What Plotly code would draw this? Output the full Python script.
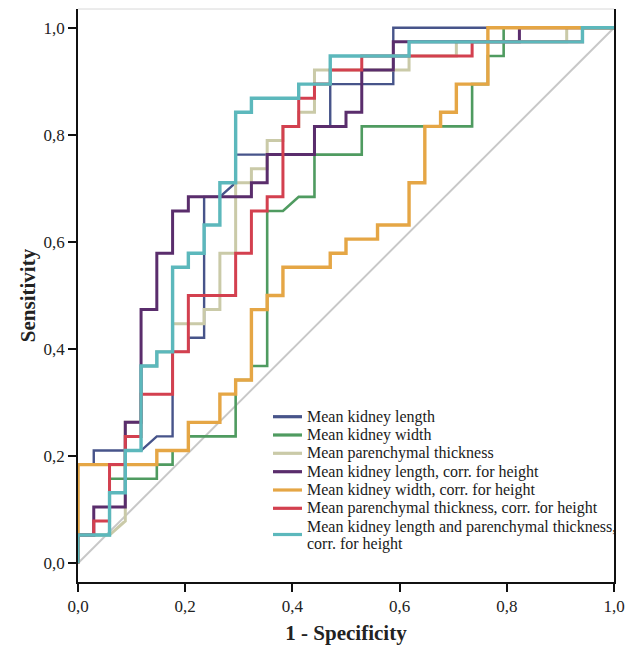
import plotly.graph_objects as go

# ROC step points given as counts: false positives (of N_NEG negatives) and true positives (of N_POS positives)
N_NEG = 34
N_POS = 38

series_names = [
    "Mean kidney length",
    "Mean kidney width",
    "Mean parenchymal thickness",
    "Mean kidney length, corr. for height",
    "Mean kidney width, corr. for height",
    "Mean parenchymal thickness, corr. for height",
    "Mean kidney length and parenchymal thickness,<br>corr. for height",
]

length_fp = [0, 0, 1, 1, 4, 5, 6, 6, 7, 7, 8, 8, 9, 10, 10, 15, 15, 16, 16, 20, 20, 34]
length_tp = [0, 7, 7, 8, 8, 9, 9, 15, 15, 16, 16, 26, 26, 27, 29, 29, 31, 31, 34, 34, 38, 38]

width_fp = [0, 0, 2, 2, 5, 5, 6, 6, 7, 7, 10, 10, 11, 11, 12, 12, 13, 14, 15, 15, 18, 18, 25, 25, 26, 26, 27, 27, 34]
width_tp = [0, 2, 2, 6, 6, 7, 7, 8, 8, 9, 9, 13, 13, 14, 14, 25, 25, 26, 26, 29, 29, 31, 31, 34, 34, 36, 36, 38, 38]

paren_fp = [0, 0, 2, 3, 3, 4, 4, 5, 5, 6, 6, 8, 8, 9, 9, 10, 10, 11, 11, 12, 12, 13, 13, 14, 14, 15, 15, 21, 21, 24, 24, 31, 31, 34]
paren_tp = [0, 2, 2, 3, 10, 10, 14, 14, 15, 15, 17, 17, 18, 18, 22, 22, 27, 27, 28, 28, 30, 30, 31, 31, 32, 32, 35, 35, 36, 36, 37, 37, 38, 38]

length_h_fp = [0, 0, 1, 1, 3, 3, 4, 4, 5, 5, 6, 6, 7, 7, 11, 11, 12, 12, 15, 15, 17, 17, 18, 18, 20, 20, 28, 28, 34]
length_h_tp = [0, 2, 2, 4, 4, 10, 10, 18, 18, 22, 22, 25, 25, 26, 26, 27, 27, 29, 29, 31, 31, 32, 32, 35, 35, 37, 37, 38, 38]

width_h_fp = [0, 0, 5, 5, 7, 7, 9, 9, 10, 10, 11, 11, 12, 12, 13, 13, 16, 16, 17, 17, 19, 19, 21, 21, 22, 22, 23, 23, 24, 24, 26, 26, 34]
width_h_tp = [0, 7, 7, 8, 8, 10, 10, 12, 12, 13, 13, 18, 18, 19, 19, 21, 21, 22, 22, 23, 23, 24, 24, 27, 27, 31, 31, 32, 32, 34, 34, 38, 38]

paren_h_fp = [0, 0, 1, 1, 2, 2, 3, 3, 4, 4, 6, 6, 7, 7, 10, 10, 11, 11, 12, 12, 13, 13, 14, 14, 15, 15, 16, 16, 18, 18, 25, 25, 32, 32, 34]
paren_h_tp = [0, 2, 2, 3, 3, 7, 7, 9, 9, 12, 12, 15, 15, 19, 19, 22, 22, 25, 25, 26, 26, 31, 31, 33, 33, 34, 34, 35, 35, 36, 36, 37, 37, 38, 38]

combo_h_fp = [0, 0, 2, 2, 3, 3, 4, 4, 5, 5, 6, 6, 7, 7, 8, 8, 9, 9, 10, 10, 11, 11, 14, 14, 16, 16, 21, 21, 32, 32, 34]
combo_h_tp = [0, 2, 2, 5, 5, 8, 8, 14, 14, 15, 15, 21, 21, 22, 22, 24, 24, 27, 27, 32, 32, 33, 33, 34, 34, 36, 36, 37, 37, 38, 38]

tick_vals = [0, 0.2, 0.4, 0.6, 0.8, 1.0]

colors = ["#47548a", "#4f9b60", "#cacaa8", "#5a2d6c", "#e5a645", "#d3404f", "#5cb8bc"]
widths = [2.4, 2.6, 3.0, 3.0, 3.4, 3.0, 3.4]

all_fp = [length_fp, width_fp, paren_fp, length_h_fp, width_h_fp, paren_h_fp, combo_h_fp]
all_tp = [length_tp, width_tp, paren_tp, length_h_tp, width_h_tp, paren_h_tp, combo_h_tp]

ref_x = [0, 1]
ref_y = [0, 1]

font_family = "Liberation Serif"

fig = go.Figure()
fig.add_trace(go.Scatter(x=ref_x, y=ref_y, mode="lines", line=dict(color="#c8c8c8", width=2),
                         showlegend=False, hoverinfo="skip"))
for name, fp, tp, c, w in zip(series_names, all_fp, all_tp, colors, widths):
    fig.add_trace(go.Scatter(
        x=[v / N_NEG for v in fp],
        y=[v / N_POS for v in tp],
        mode="lines", name=name.replace("<br>", " "),
        line=dict(color=c, width=w), showlegend=False,
    ))

# --- hand-placed legend (compact SPSS-style spacing) ---
# plot area on the page: x 78..614, y 9..582 (page has an 8px body margin)
PX0, PX1, PY0, PY1 = 78, 614, 9, 582


def px_to_paper_x(px):
    return (px - PX0) / (PX1 - PX0)


def px_to_paper_y(py):
    return (PY1 - py) / (PY1 - PY0)


legend_rows_y = [416.7, 435.0, 453.3, 471.7, 490.0, 508.3, 534.5]
sym_x0, sym_x1, text_x = 273, 302, 305

shapes = [dict(type="line", xref="paper", yref="paper", x0=0, x1=1, y0=1, y1=1,
               line=dict(color="#d8d8d8", width=1))]
annotations = []
for k, (name, c) in enumerate(zip(series_names, colors)):
    yy = legend_rows_y[k]
    shapes.append(dict(type="line", xref="paper", yref="paper",
                       x0=px_to_paper_x(sym_x0), x1=px_to_paper_x(sym_x1),
                       y0=px_to_paper_y(yy), y1=px_to_paper_y(yy),
                       line=dict(color=c, width=3.2)))
    lines = name.split("<br>")
    if len(lines) == 1:
        offs = [0.0]
    else:
        offs = [-8.0, 9.0]
    for ln, off in zip(lines, offs):
        annotations.append(dict(
            text=ln, xref="paper", yref="paper",
            x=px_to_paper_x(text_x), y=px_to_paper_y(yy + off),
            xanchor="left", yanchor="middle", showarrow=False,
            font=dict(family=font_family, size=16, color="#1a1a1a"),
        ))

fig.update_layout(
    width=632, height=651,
    margin=dict(l=70, r=26, t=1, b=77),
    paper_bgcolor="white", plot_bgcolor="white",
    separators=", ",
    font=dict(family=font_family, size=17, color="#222"),
    showlegend=False,
    xaxis=dict(
        range=[0, 1], tickvals=tick_vals, tickformat=".1f",
        showgrid=False, zeroline=False, showline=True, linecolor="#111", linewidth=1.6,
        ticks="outside", ticklen=8, tickwidth=1.6, tickcolor="#111",
        title=dict(text="<b>1 - Specificity</b>", font=dict(size=21, family=font_family, color="#222"), standoff=10),
    ),
    yaxis=dict(
        range=[-0.035, 1.035], tickvals=tick_vals, tickformat=".1f",
        showgrid=False, zeroline=False, showline=True, linecolor="#111", linewidth=1.6, mirror=True,
        ticks="outside", ticklen=8, tickwidth=1.6, tickcolor="#111",
        title=dict(text="<b>Sensitivity</b>", font=dict(size=21, family=font_family, color="#222"), standoff=2),
    ),
    shapes=shapes,
    annotations=annotations,
)

fig.write_html("out.html")
